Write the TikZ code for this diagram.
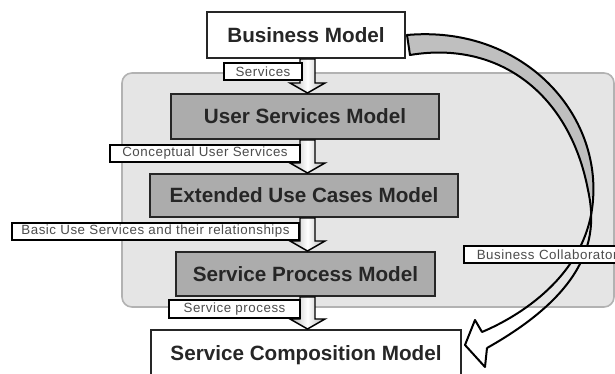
\documentclass[tikz,border=0pt]{standalone}
\usepackage{fontspec}
\setmainfont{Liberation Sans}
\newfontfamily\tagfont[LetterSpace=4]{Liberation Sans}
\usetikzlibrary{calc}
\begin{document}
\begin{tikzpicture}[x=0.75pt,y=-0.75pt,
  model/.style={draw=black!85,line width=1.5pt,inner sep=0pt,font=\fontsize{15.5pt}{18pt}\selectfont\bfseries,text=black!85},
  grey model/.style={model,fill=gray!65},
  white model/.style={model,fill=white},
  tag/.style={draw=black,line width=1.2pt,fill=white,inner sep=0pt,minimum height=12.75pt,font=\tagfont\fontsize{10pt}{12pt}\selectfont,text=black!70},
  blockarr/.style={draw=black,line width=1.1pt,line join=miter,left color=gray!60,right color=gray!60,middle color=white},
  ribbon/.style={draw=black,line width=1.5pt,line join=round,line cap=round}
]
\newcommand\blockarrow[2]{%
  \path[blockarr] let \p1=(#1.south), \p2=(#2.north), \p3=(307.5,0) in
    (\x3-5.625pt,\y1) -- (\x3+5.625pt,\y1) -- (\x3+5.625pt,\y2+7.5pt) -- (\x3+13.125pt,\y2+7.5pt)
    -- (\x3,\y2) -- (\x3-13.125pt,\y2+7.5pt) -- (\x3-5.625pt,\y2+7.5pt) -- cycle;}
\useasboundingbox (0,0) rectangle (615,374);
\clip (0,0) rectangle (615,374);
% background frame
\node[draw=gray!60,fill=gray!20,line width=1.2pt,rounded corners=7.5pt,minimum width=369pt,minimum height=175.5pt,inner sep=0pt] (frame) at (368,190) {};
% curved ribbon arrow (twisted band)
\coordinate (ta) at (407,35);
\coordinate (tb) at (410,55);
\coordinate (ma) at (593,200);
\coordinate (mb) at (588,190);
\coordinate (na) at (482,332);
\coordinate (nb) at (487,348);
\fill[gray!50] (ta) .. controls (520,25) and (600,110) .. (ma) -- (mb) .. controls (570,95) and (500,40) .. (tb) -- cycle;
\draw[ribbon] (ta) .. controls (520,25) and (600,110) .. (ma) .. controls (588,270) and (527,313) .. (na);
\draw[ribbon] (tb) .. controls (500,40) and (570,95) .. (mb) .. controls (598,235) and (590,290) .. (nb);
\draw[ribbon] (ta) -- (tb);
\coordinate (hu) at (475,320);
\coordinate (tip) at (465,345);
\coordinate (hl) at (485,367);
\fill[white] (na) -- (hu) -- (tip) -- (hl) -- (nb) -- cycle;
\draw[ribbon] (na) -- (hu) -- (tip) -- (hl) -- (nb);
% model boxes
\node[white model,minimum width=148.5pt,minimum height=34.5pt] (bm) at (306,35) {Business Model};
\node[grey model,minimum width=201pt,minimum height=33.75pt] (us) at (305,116.5) {User Services Model};
\node[grey model,minimum width=231pt,minimum height=32.25pt] (ex) at (304,195.5) {Extended Use Cases Model};
\node[grey model,minimum width=194.25pt,minimum height=33pt] (sp) at (305.5,274) {Service Process Model};
\node[white model,minimum width=232.5pt,minimum height=37.5pt] (sc) at (306,355) {Service Composition Model};
% block arrows
\blockarrow{bm}{us}
\blockarrow{us}{ex}
\blockarrow{ex}{sp}
\blockarrow{sp}{sc}
% labels
\node[tag,minimum width=58.5pt] (l1) at (263,71.5) {Services};
\node[tag,minimum width=142.5pt] (l2) at (205,153.5) {Conceptual User Services};
\node[tag,minimum width=215.25pt] (l3) at (155.5,231.5) {Basic Use Services and their relationships};
\node[tag,minimum width=98.25pt,minimum height=13.5pt] (l4) at (234.5,309) {Service process};
\node[tag,anchor=west,text width=130pt,align=left,inner xsep=9.75pt] (l5) at (463,254.5) {Business Collaborator};
\end{tikzpicture}
\end{document}
